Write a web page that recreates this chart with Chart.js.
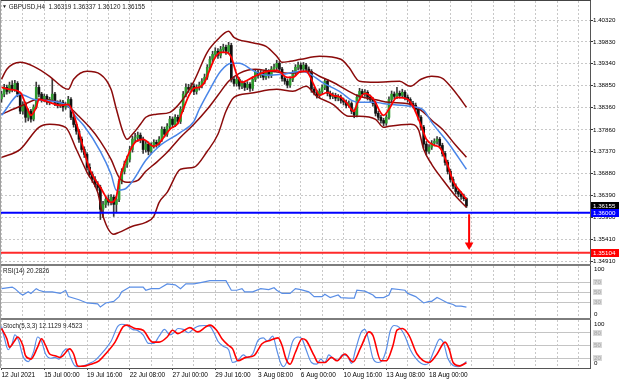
<!DOCTYPE html>
<html><head><meta charset="utf-8">
<script src="https://cdn.jsdelivr.net/npm/chart.js@4.4.1/dist/chart.umd.min.js"></script>
<style>
html,body{margin:0;padding:0;background:#fff;}
#wrap{position:relative;width:620px;height:383px;overflow:hidden;background:#fff;font-family:"Liberation Sans",Arial,sans-serif;}
canvas{position:absolute;left:0;}
.bar{position:absolute;}
.lbl{position:absolute;font-size:6.3px;color:#1a1a1a;white-space:pre;line-height:8px;}
</style></head><body>
<div id="wrap">
 <canvas id="cMain" width="620" height="264" style="top:0px"></canvas>
 <canvas id="cRsi" width="620" height="52" style="top:266px"></canvas>
 <canvas id="cSto" width="620" height="63" style="top:320px"></canvas>
 <div class="bar" style="left:0;top:0;width:591px;height:1px;background:#444"></div>
 <div class="bar" style="left:0;top:264px;width:591px;height:2px;background:#7d7d7d"></div>
 <div class="bar" style="left:0;top:318px;width:591px;height:2px;background:#7d7d7d"></div>
 <div class="bar" style="left:0;top:0;width:1px;height:368px;background:#a0a0a0"></div>
 <div class="lbl" id="hdr" style="left:2px;top:2px"></div>
 <div class="lbl" id="rsiLbl" style="left:3px;top:267px"></div>
 <div class="lbl" id="stoLbl" style="left:3px;top:322px"></div>
</div>
<script>
// ---------------- DATA ----------------
const symbol = 'GBPUSD,H4';
const opens = [
1.3855,1.3866,1.3881,1.3872,1.3886,1.3877,1.3890,1.3866,1.3828,1.3843,
1.3814,1.3828,1.3810,1.3837,1.3881,1.3866,1.3854,1.3861,1.3848,1.3854,
1.3866,1.3845,1.3841,1.3848,1.3837,1.3841,1.3854,1.3814,1.3798,1.3783,
1.3765,1.3742,1.3731,1.3702,1.3686,1.3675,1.3664,1.3657,1.3608,1.3619,
1.3630,1.3624,1.3635,1.3619,1.3630,1.3671,1.3693,1.3709,1.3720,1.3742,
1.3765,1.3769,1.3774,1.3765,1.3742,1.3754,1.3738,1.3751,1.3758,1.3754,
1.3765,1.3787,1.3776,1.3794,1.3810,1.3798,1.3814,1.3805,1.3832,1.3866,
1.3881,1.3877,1.3884,1.3872,1.3881,1.3886,1.3895,1.3904,1.3926,1.3944,
1.3955,1.3962,1.3953,1.3966,1.3971,1.3962,1.3975,1.3899,1.3890,1.3899,
1.3884,1.3890,1.3881,1.3888,1.3879,1.3899,1.3915,1.3908,1.3913,1.3904,
1.3917,1.3908,1.3922,1.3926,1.3935,1.3922,1.3901,1.3895,1.3886,1.3899,
1.3913,1.3926,1.3931,1.3922,1.3931,1.3922,1.3917,1.3877,1.3870,1.3863,
1.3872,1.3881,1.3895,1.3868,1.3861,1.3863,1.3857,1.3859,1.3852,1.3848,
1.3841,1.3845,1.3828,1.3819,1.3859,1.3872,1.3866,1.3870,1.3859,1.3854,
1.3845,1.3823,1.3814,1.3807,1.3801,1.3814,1.3854,1.3866,1.3861,1.3868,
1.3863,1.3870,1.3859,1.3854,1.3845,1.3841,1.3832,1.3814,1.3792,1.3754,
1.3738,1.3747,1.3756,1.3760,1.3765,1.3751,1.3733,1.3713,1.3693,1.3675,
1.3660,1.3648,1.3642,1.3637,1.36319];
const highs = [
1.3872,1.3888,1.3886,1.3893,1.3896,1.3897,1.3894,1.3870,1.3849,1.3848,
1.3833,1.3832,1.3842,1.3893,1.3886,1.3870,1.3866,1.3865,1.3859,1.3899,
1.3870,1.3851,1.3853,1.3852,1.3847,1.3861,1.3858,1.3818,1.3803,1.3787,
1.3770,1.3748,1.3735,1.3710,1.3692,1.3681,1.3670,1.3662,1.3626,1.3636,
1.3640,1.3641,1.3640,1.3637,1.3676,1.3699,1.3716,1.3727,1.3749,1.3772,
1.3778,1.3781,1.3779,1.3770,1.3760,1.3759,1.3757,1.3764,1.3763,1.3771,
1.3793,1.3792,1.3800,1.3816,1.3815,1.3820,1.3819,1.3838,1.3872,1.3889,
1.3888,1.3891,1.3889,1.3887,1.3893,1.3901,1.3911,1.3932,1.3950,1.3962,
1.3970,1.3968,1.3973,1.3978,1.3976,1.3982,1.3980,1.3905,1.3906,1.3903,
1.3896,1.3894,1.3894,1.3892,1.3905,1.3921,1.3920,1.3919,1.3917,1.3924,
1.3921,1.3928,1.3933,1.3942,1.3939,1.3926,1.3906,1.3900,1.3905,1.3919,
1.3932,1.3938,1.3936,1.3937,1.3935,1.3927,1.3921,1.3882,1.3875,1.3878,
1.3887,1.3901,1.3899,1.3873,1.3869,1.3868,1.3865,1.3864,1.3857,1.3853,
1.3851,1.3849,1.3833,1.3865,1.3879,1.3877,1.3876,1.3874,1.3864,1.3858,
1.3849,1.3828,1.3819,1.3812,1.3820,1.3860,1.3873,1.3871,1.3881,1.3873,
1.3877,1.3874,1.3864,1.3858,1.3850,1.3846,1.3836,1.3818,1.3796,1.3760,
1.3753,1.3762,1.3766,1.3771,1.3769,1.3756,1.3738,1.3718,1.3698,1.3680,
1.3665,1.3653,1.3647,1.3642,1.36337];
const lows = [
1.3848,1.3860,1.3866,1.3868,1.3871,1.3872,1.3860,1.3822,1.3821,1.3803,
1.3806,1.3803,1.3806,1.3833,1.3860,1.3848,1.3849,1.3843,1.3842,1.3850,
1.3840,1.3835,1.3836,1.3828,1.3832,1.3836,1.3809,1.3792,1.3776,1.3758,
1.3736,1.3724,1.3696,1.3680,1.3668,1.3658,1.3650,1.3585,1.3590,1.3612,
1.3617,1.3618,1.3592,1.3600,1.3625,1.3665,1.3687,1.3702,1.3714,1.3736,
1.3758,1.3760,1.3757,1.3733,1.3736,1.3730,1.3733,1.3745,1.3747,1.3748,
1.3760,1.3770,1.3771,1.3788,1.3792,1.3793,1.3799,1.3800,1.3827,1.3860,
1.3870,1.3871,1.3865,1.3866,1.3875,1.3880,1.3889,1.3899,1.3920,1.3938,
1.3949,1.3946,1.3947,1.3960,1.3955,1.3956,1.3893,1.3884,1.3884,1.3877,
1.3878,1.3874,1.3876,1.3872,1.3874,1.3894,1.3902,1.3903,1.3898,1.3899,
1.3902,1.3903,1.3916,1.3920,1.3916,1.3895,1.3888,1.3880,1.3881,1.3894,
1.3908,1.3920,1.3916,1.3917,1.3915,1.3910,1.3870,1.3864,1.3857,1.3858,
1.3867,1.3876,1.3862,1.3855,1.3856,1.3851,1.3851,1.3846,1.3842,1.3835,
1.3836,1.3822,1.3813,1.3815,1.3853,1.3860,1.3861,1.3853,1.3848,1.3839,
1.3817,1.3808,1.3801,1.3795,1.3796,1.3810,1.3849,1.3855,1.3856,1.3857,
1.3858,1.3853,1.3848,1.3839,1.3835,1.3826,1.3808,1.3785,1.3745,1.3730,
1.3733,1.3742,1.3750,1.3754,1.3745,1.3727,1.3707,1.3687,1.3669,1.3654,
1.3642,1.3636,1.3630,1.3627,1.36120];
const closes = [
1.3866,1.3881,1.3872,1.3886,1.3877,1.3890,1.3866,1.3828,1.3843,1.3814,
1.3828,1.3810,1.3837,1.3881,1.3866,1.3854,1.3861,1.3848,1.3854,1.3866,
1.3845,1.3841,1.3848,1.3837,1.3841,1.3854,1.3814,1.3798,1.3783,1.3765,
1.3742,1.3731,1.3702,1.3686,1.3675,1.3664,1.3657,1.3608,1.3619,1.3630,
1.3624,1.3635,1.3619,1.3630,1.3671,1.3693,1.3709,1.3720,1.3742,1.3765,
1.3769,1.3774,1.3765,1.3742,1.3754,1.3738,1.3751,1.3758,1.3754,1.3765,
1.3787,1.3776,1.3794,1.3810,1.3798,1.3814,1.3805,1.3832,1.3866,1.3881,
1.3877,1.3884,1.3872,1.3881,1.3886,1.3895,1.3904,1.3926,1.3944,1.3955,
1.3962,1.3953,1.3966,1.3971,1.3962,1.3975,1.3899,1.3890,1.3899,1.3884,
1.3890,1.3881,1.3888,1.3879,1.3899,1.3915,1.3908,1.3913,1.3904,1.3917,
1.3908,1.3922,1.3926,1.3935,1.3922,1.3901,1.3895,1.3886,1.3899,1.3913,
1.3926,1.3931,1.3922,1.3931,1.3922,1.3917,1.3877,1.3870,1.3863,1.3872,
1.3881,1.3895,1.3868,1.3861,1.3863,1.3857,1.3859,1.3852,1.3848,1.3841,
1.3845,1.3828,1.3819,1.3859,1.3872,1.3866,1.3870,1.3859,1.3854,1.3845,
1.3823,1.3814,1.3807,1.3801,1.3814,1.3854,1.3866,1.3861,1.3868,1.3863,
1.3870,1.3859,1.3854,1.3845,1.3841,1.3832,1.3814,1.3792,1.3754,1.3738,
1.3747,1.3756,1.3760,1.3765,1.3751,1.3733,1.3713,1.3693,1.3675,1.3660,
1.3648,1.3642,1.3637,1.36319,1.36155];

// Bollinger bands: bar index -> price
const bbUpperBars = [0,2,7,12,18,23,25,27,32,37,41,43,45.5,47,49,52,54,58,63,67,72,77,81,85,87,93,99,103,105,108,112,119,127,130,134,140,149,153,157,161,165,168,171,174];
const bbUpper = [1.38992,1.39216,1.39372,1.39283,1.39059,1.38812,1.38768,1.38992,1.39171,1.39104,1.38768,1.38320,1.37804,1.37648,1.37760,1.37984,1.38141,1.38208,1.38252,1.38476,1.38947,1.39596,1.39888,1.40067,1.39932,1.39820,1.39731,1.39507,1.39372,1.39395,1.39440,1.39507,1.39440,1.39260,1.38947,1.38925,1.38947,1.38835,1.38992,1.39059,1.39014,1.38835,1.38611,1.38365];
const bbMidBars = [0,7,14,20,25,29,33,37,41,44,47,51,54,58,62,67,72,77,81,85,89,95,101,108,115,119,124,130,134,141,145,153,158,161,165,170,174];
const bbMid = [1.38208,1.38387,1.38544,1.38499,1.38387,1.38163,1.37916,1.37603,1.37200,1.36796,1.36685,1.36729,1.36931,1.37132,1.37356,1.37693,1.37984,1.38320,1.38633,1.38947,1.39126,1.39216,1.39171,1.39126,1.39171,1.39059,1.38925,1.38723,1.38611,1.38521,1.38476,1.38432,1.38252,1.38073,1.37872,1.37513,1.37244];
const bbLowerBars = [0,7,14,18,24,28,32,36,38,42,44,49,54,57,59,62,67,72,77,81,84,87,93,103,109,114,118,124,130,134,140,143,145,153,156,158,161,165,170,174];
const bbLower = [1.37244,1.37424,1.37916,1.37984,1.37916,1.37424,1.36908,1.36460,1.35923,1.35520,1.35564,1.35699,1.35788,1.35923,1.36236,1.36460,1.36976,1.37020,1.37379,1.37760,1.38275,1.38588,1.38678,1.38768,1.38723,1.38835,1.38611,1.38432,1.38163,1.38163,1.38096,1.37916,1.37939,1.37984,1.37872,1.37424,1.37088,1.36752,1.36371,1.36124];
// Blue moving average
const maBlueBars = [0,7,12,16,25,28,31,37,41,43,46,49,54,59,67,72,74,78,82,86,89,94,99,105,112,115,120,127,131,134,139,145,153,158,161,167,174];
const maBlue = [1.38185,1.38656,1.38544,1.38521,1.38387,1.38141,1.37939,1.37379,1.36864,1.36505,1.36528,1.36707,1.37177,1.37491,1.37804,1.38051,1.38320,1.38768,1.39171,1.39350,1.39350,1.39193,1.39081,1.39104,1.39171,1.39126,1.38925,1.38700,1.38521,1.38476,1.38476,1.38432,1.38387,1.38297,1.38028,1.37581,1.36976];
// Red moving average
const maRedBars = [0,3,7,9.5,11,13,14,18,22,25,27,29,33,37,41,43,44,46,48,50,53,57,59,61,63,66,68,70,72,74,76,78,80,82,84,86,88,90,94,98,103,107,109,112,114,117,119,122,124,127,129,132,133,136,139,143,145,148,152,154,157,159,162,164,167,169,172,174];
const maRed = [1.38812,1.38768,1.38700,1.38365,1.38185,1.38365,1.38544,1.38476,1.38409,1.38432,1.38208,1.37804,1.36976,1.36572,1.36236,1.36371,1.36707,1.37088,1.37379,1.37581,1.37648,1.37491,1.37558,1.37715,1.37872,1.38006,1.38320,1.38611,1.38790,1.38812,1.38925,1.39216,1.39485,1.39596,1.39596,1.39485,1.39104,1.38925,1.39036,1.39148,1.39193,1.39036,1.39036,1.39171,1.39171,1.38857,1.38633,1.38700,1.38633,1.38588,1.38476,1.38275,1.38432,1.38678,1.38566,1.38185,1.38320,1.38588,1.38544,1.38387,1.37961,1.37648,1.37513,1.37468,1.37065,1.36707,1.36460,1.36304];
// Horizontal levels and target arrow
const hLevels = [1.36000, 1.35104];
const arrowBar = 175;
const arrowFrom = 1.3597, arrowTo = 1.3528;
// Price axis tick labels
const priceTicks = [1.40320,1.39830,1.39340,1.38850,1.38360,1.37860,1.37370,1.36880,1.36390,1.35900,1.35410,1.34910];
// Time axis labels (every 16 H4 bars)
const timeLabelBars = [0,16,32,48,64,80,96,112,128,144,160];
const timeLabels = ['12 Jul 2021','15 Jul 00:00','19 Jul 16:00','22 Jul 08:00','27 Jul 00:00','29 Jul 16:00','3 Aug 08:00','6 Aug 00:00','10 Aug 16:00','13 Aug 08:00','18 Aug 00:00'];
// RSI(14)
const rsiBars = [0,4,5,7,8,10,11,13,14,16,19,22,24,25,29,32,36,37,39,42,44,45,48,53,54,56,59,62,65,67,69,72,75,78,84,86,88,90,91,94,97,100,102,103,105,108,110,112,115,117,120,121,123,126,127,130,132,133,136,139,140,143,145,146,151,152,155,158,160,161,163,164,167,169,170,172,174];
const rsiValues = [57.3,60.5,57.3,47.8,44.6,51,47.8,57.3,54.1,51,51,47.8,54.1,41.4,35.1,28.7,26.8,20.5,28.7,31.9,41.4,51,60.5,60.5,54.1,57.3,57.3,66.8,64.9,57.3,66.8,66.8,70,73.2,73.2,54.1,54.1,57.3,51,51,57.3,55.4,59.2,54.1,47.8,47.8,57.3,55.4,51,41.4,41.4,45.9,39.5,44.6,39.5,38.3,38.3,54.1,52.2,44.6,39.5,39.5,44.6,57.3,54.1,47.8,41.4,28.7,31.9,31.9,39.5,37,28.7,25.6,22.4,22.4,20.2826];
const rsiLevels = [70,50,30];
// Stochastic(5,3,3)
const stoKBars = [0,1,2.5,4,5,6.5,8,10,12,13.5,15,16.5,18.5,20,21.5,23,24.5,26,27.5,29,31,33,35,38,41,43.5,45,47,49,51,53,55,57,59,61,63,64.5,66,68,70,72,74,76,78,79.5,81,83,85,86.5,88.5,90.5,92,94,96,98,99.5,101.5,103,104.5,105.5,107,109,111,112.5,114,116,118,119.5,121,122.5,124,126,127.5,129.5,131,132.5,134.5,136,137.5,139,141,142.5,144,145.5,147,149,151,153,155,157,158.5,160,162,164,165.5,167,169,171,172.5,174];
const stoK = [95,70,40,55,75,60,25,12,35,70,60,30,20,22,18,35,42,20,2,0,3,8,15,35,60,95,100,97,88,85,75,55,55,72,88,75,80,90,88,80,90,96,97,95,80,60,48,40,10,15,28,22,30,62,68,60,72,40,8,0,15,60,70,65,40,10,6,18,10,28,20,15,28,25,8,40,80,88,60,20,10,15,40,85,97,92,72,40,20,8,5,10,40,65,55,20,3,0,5,12.1129];
const stoDBars = [0,2,3,5,6,8,9,11,13.5,15,16.5,18,20,22,23,25.5,27,28.5,29.5,31.5,33.5,36.5,39.5,42.5,45.5,47,50,53,56.5,59,62,64,66,68.5,70.5,73.5,76.5,78,80.5,82.5,85,86.5,88.5,91.5,94.5,97.5,100.5,103.5,105,106.5,108,110,112.5,114,117,118.5,121,123.5,125.5,128.5,131.5,134.5,137.5,139,142,144,146.5,148,150,152.5,155.5,160,163,166,167.5,169,171.5,174];
const stoD = [90,66,46,62,70,50,26,18,46,66,50,30,26,22,26,42,30,2,1,2,6,14,34,58,94,98,90,86,58,58,70,86,78,86,92,82,94,98,86,66,50,42,14,22,26,54,62,68,50,18,6,34,66,62,26,10,10,22,14,30,11,46,82,74,14,14,50,86,90,74,30,10,30,58,42,10,2,9.4523];
const stoLevels = [80,50,20];

// ---------------- STYLE / LAYOUT ----------------
const FONT = '"Liberation Sans", Arial, sans-serif';
Chart.defaults.font.family = FONT;
const X_MIN = -0.187, X_MAX = 220.24, GRID_STEP = 8;
const Y_MIN = 1.34855, Y_MAX = 1.40746;
const GRID = '#c8c8c8';
const BB_COL = '#8b0b0b', BLUE_MA = '#4a86e8', RED_MA = '#ff0000';

const last = closes.length - 1;
document.getElementById('hdr').innerHTML = '<span style="font-size:5px;vertical-align:1px">\u25BC</span> ' + symbol + '  ' +
  [opens[last], highs[last], lows[last], closes[last]].map(v => v.toFixed(5)).join(' ');
document.getElementById('rsiLbl').textContent = 'RSI(14) ' + rsiValues[rsiValues.length-1].toFixed(4);
document.getElementById('stoLbl').textContent = 'Stoch(5,3,3) ' + stoK[stoK.length-1].toFixed(4) + ' ' + stoD[stoD.length-1].toFixed(4);

function gridTicks(){ const t=[]; for(let v=0; v<=X_MAX; v+=GRID_STEP) t.push({value:v}); return t; }

function xAxis(showLabels){
  return {
    type:'linear', min:X_MIN, max:X_MAX, offset:false,
    afterBuildTicks: s => { s.ticks = gridTicks(); },
    afterFit: s => { s.height = showLabels ? 15 : 0; },
    grid:{ display:true, offset:false, color:GRID, lineWidth:1, drawTicks:showLabels, tickLength:2,
           tickColor: c => timeLabelBars.includes(c.tick && c.tick.value) ? '#444' : 'rgba(0,0,0,0)', tickBorderDash:[] },
    border:{ display:showLabels, color:'#555', dash:[2,2] },
    ticks:{ display:showLabels, autoSkip:false, maxRotation:0, minRotation:0, align:'start', padding:1,
            font:{size:6.5}, color:'#000',
            callback: v => { const k = timeLabelBars.indexOf(v); return k >= 0 ? timeLabels[k] : ''; } }
  };
}

function lineDs(bx, vals, color, width, mono){
  return { type:'line', data: bx.map((b,i)=>({x:b, y:vals[i]})), borderColor:color, borderWidth:width,
           pointRadius:0, fill:false, cubicInterpolationMode: mono ? 'monotone' : 'default', tension:0 };
}

const common = { responsive:false, animation:false, devicePixelRatio:1, events:[],
  plugins:{ legend:{display:false}, tooltip:{enabled:false} } };

// ---------- MAIN ----------
const idx = closes.map((_, i) => i);
const priceBoxes = {
  id:'priceBoxes',
  afterDraw(chart){
    const {ctx, chartArea:a} = chart; const ys = chart.scales.y;
    const items = [{v:closes[last], bg:'#000'}, {v:hLevels[0], bg:'#0000ff'}, {v:hLevels[1], bg:'#ff0000'}];
    ctx.save(); ctx.font = '6.2px ' + FONT; ctx.textBaseline = 'middle'; ctx.textAlign = 'left';
    items.forEach(b => { const py = Math.round(ys.getPixelForValue(b.v));
      ctx.fillStyle = b.bg; ctx.fillRect(a.right + 1, py - 4, 28, 8);
      ctx.fillStyle = '#fff'; ctx.fillText(b.v.toFixed(5), a.right + 3, py + 0.5); });
    ctx.restore();
  }
};

new Chart(document.getElementById('cMain'), {
  type:'line',
  data:{ datasets:[
    { type:'line', data:[{x:arrowBar,y:arrowFrom},{x:arrowBar,y:arrowTo}], borderColor:'#ff0000', borderWidth:2,
      pointRadius:[0,5], pointStyle:'triangle', rotation:180, pointBackgroundColor:'#ff0000', pointBorderColor:'#ff0000', pointBorderWidth:0 },
    { type:'line', data:[{x:X_MIN,y:hLevels[0]},{x:X_MAX,y:hLevels[0]}], borderColor:'#0000ff', borderWidth:2, pointRadius:0 },
    { type:'line', data:[{x:X_MIN,y:hLevels[1]},{x:X_MAX,y:hLevels[1]}], borderColor:'#ff2a2a', borderWidth:2, pointRadius:0 },
    lineDs(maRedBars, maRed, RED_MA, 1.8, true),
    lineDs(maBlueBars, maBlue, BLUE_MA, 1.5, true),
    lineDs(bbUpperBars, bbUpper, BB_COL, 1.5, true),
    lineDs(bbMidBars, bbMid, BB_COL, 1.5, true),
    lineDs(bbLowerBars, bbLower, BB_COL, 1.5, true),
    { type:'bar', grouped:false, barThickness:2, minBarLength:1, borderWidth:0,
      data: idx.map(i => ({x:i, y:[opens[i], closes[i]]})),
      backgroundColor: idx.map(i => closes[i] >= opens[i] ? '#2e9c2e' : '#111') },
    { type:'bar', grouped:false, barThickness:1, borderWidth:0,
      data: idx.map(i => ({x:i, y:[lows[i], highs[i]]})), backgroundColor:'#3a3a3a' }
  ]},
  options: Object.assign({}, common, {
    layout:{ autoPadding:false, padding:{ top:1, left:1, right:0, bottom:0 } },
    scales:{
      x: xAxis(false),
      y: { position:'right', min:Y_MIN, max:Y_MAX, beginAtZero:false,
           afterBuildTicks: s => { s.ticks = priceTicks.map(v => ({value:v})); },
           afterFit: s => { s.width = 30; },
           ticks:{ autoSkip:false, callback: v => v.toFixed(5), font:{size:6.2, lineHeight:0.01}, color:'#000', padding:0 },
           grid:{ color:GRID, drawTicks:true, tickLength:3, tickColor:'#333', tickBorderDash:[] },
           border:{ display:true, color:'#555', dash:[2,2] } }
    }
  }),
  plugins:[priceBoxes]
});

// ---------- SUB PANELS ----------
const subLabels = {
  id:'subLabels',
  afterDraw(chart, args, o){
    const {ctx, chartArea:a} = chart; const ys = chart.scales.y;
    ctx.save(); ctx.font = '6.2px ' + FONT; ctx.textBaseline = 'middle'; ctx.textAlign = 'left';
    o.levels.forEach(v => { const py = Math.round(ys.getPixelForValue(v));
      ctx.fillStyle = '#d9d9d9'; ctx.fillRect(a.right + 3, py - 3, 9, 6);
      ctx.fillStyle = '#a6a6a6'; ctx.fillText(String(v), a.right + 4, py + 0.5); });
    ctx.fillStyle = '#000';
    ctx.fillText('100', a.right + 4, a.top + o.topInset);
    ctx.fillText('0', a.right + 4, a.bottom - o.botInset);
    ctx.restore();
  }
};

function subY(min, max, levels){
  return { position:'right', min, max, beginAtZero:false,
    afterBuildTicks: s => { s.ticks = levels.map(v => ({value:v})); },
    afterFit: s => { s.width = 30; },
    ticks:{ display:false },
    grid:{ color:'#c4c4c4', drawTicks:false },
    border:{ display:true, color:'#555' } };
}

new Chart(document.getElementById('cRsi'), {
  type:'line',
  data:{ datasets:[ lineDs(rsiBars, rsiValues, '#5a8ee6', 1.2, false) ] },
  options: Object.assign({}, common, {
    layout:{ autoPadding:false, padding:{ top:0, left:1, right:0, bottom:0 } },
    plugins:{ legend:{display:false}, tooltip:{enabled:false}, subLabels:{ levels:rsiLevels, topInset:3.5, botInset:3.5 } },
    scales:{ x: xAxis(false), y: subY(-1.4, 102.6, rsiLevels) }
  }),
  plugins:[subLabels]
});

new Chart(document.getElementById('cSto'), {
  type:'line',
  data:{ datasets:[
    lineDs(stoDBars, stoD, '#ff0000', 1.6, true),
    lineDs(stoKBars, stoK, '#5a8ee6', 1.2, true)
  ]},
  options: Object.assign({}, common, {
    layout:{ autoPadding:false, padding:{ top:0, left:1, right:0, bottom:0 } },
    plugins:{ legend:{display:false}, tooltip:{enabled:false}, subLabels:{ levels:stoLevels, topInset:4, botInset:5 } },
    scales:{ x: xAxis(true), y: subY(-3, 110, stoLevels) }
  }),
  plugins:[subLabels]
});
</script>
</body></html>
